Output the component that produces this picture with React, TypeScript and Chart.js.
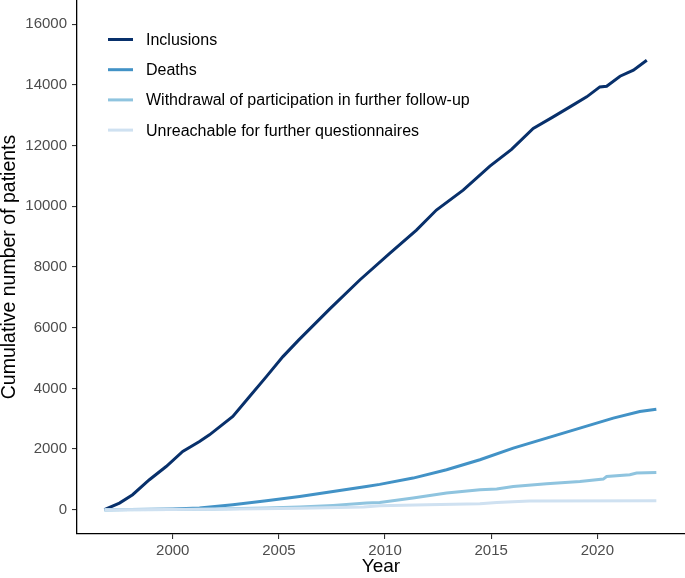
import React, { useEffect, useRef } from "react";
import { Chart, registerables } from "chart.js";

Chart.register(...registerables);

// ---- Data ----
const seriesNames = [
  "Inclusions",
  "Deaths",
  "Withdrawal of participation in further follow-up",
  "Unreachable for further questionnaires",
];

const inclusionYears = [
  1996.78, 1997.49, 1998.11, 1998.9, 1999.69, 2000.47, 2001.26, 2001.73, 2002.83,
  2003.62, 2004.41, 2005.19, 2005.94, 2007.4, 2008.81, 2010.22, 2011.48, 2012.42,
  2013.68, 2014.94, 2015.96, 2016.98, 2017.92, 2018.71, 2019.5, 2020.12, 2020.44,
  2021.07, 2021.7, 2022.33,
];
const inclusionValues = [
  0, 220, 494, 988, 1425, 1919, 2249, 2469, 3072,
  3730, 4388, 5047, 5597, 6620, 7572, 8451, 9218, 9877,
  10535, 11325, 11875, 12566, 12948, 13277, 13607, 13936, 13959,
  14288, 14486, 14815,
];

const deathYears = [
  1996.78, 1998.0, 2000.0, 2001.26, 2002.83, 2004.41, 2005.98, 2007.55, 2009.12,
  2009.75, 2011.32, 2012.9, 2014.47, 2016.04, 2017.61, 2019.18, 2020.75, 2022.0, 2022.78,
];
const deathValues = [
  0, 5, 25, 56, 165, 296, 439, 604, 768,
  835, 1043, 1317, 1646, 2030, 2360, 2689, 3019, 3237, 3315,
];

const withdrawalYears = [
  1996.78, 2000.0, 2002.0, 2004.41, 2005.98, 2007.55, 2009.12, 2009.75, 2011.32,
  2012.9, 2014.47, 2015.26, 2016.04, 2017.61, 2019.18, 2020.28, 2020.44, 2021.53,
  2021.85, 2022.78,
];
const withdrawalValues = [
  0, 5, 20, 55, 88, 143, 220, 241, 384,
  549, 658, 680, 768, 856, 933, 1010, 1097, 1152,
  1207, 1229,
];

const unreachableYears = [
  1996.78, 2000.0, 2003.0, 2006.0, 2009.0, 2009.75, 2012.0, 2014.47, 2015.26,
  2016.8, 2022.78,
];
const unreachableValues = [0, 5, 20, 45, 90, 132, 165, 198, 241, 290, 296];

const xTicks = [2000, 2005, 2010, 2015, 2020];
const yTicks = [0, 2000, 4000, 6000, 8000, 10000, 12000, 14000, 16000];

const colors = ["#08306b", "#4292c6", "#8fc4df", "#cfe1f1"];
const FONT = "'Liberation Sans', Arial, Helvetica, sans-serif";

const toPoints = (xs: number[], ys: number[]) => xs.map((x, i) => ({ x, y: ys[i] }));

const insideLegend = {
  id: "insideLegend",
  afterDraw(chart: any) {
    const { ctx, chartArea } = chart;
    ctx.save();
    chart.data.datasets.forEach((ds: any, i: number) => {
      const y = chartArea.top + 39.5 + i * 30.2;
      ctx.strokeStyle = ds.borderColor;
      ctx.lineWidth = 3;
      ctx.beginPath();
      ctx.moveTo(chartArea.left + 31, y);
      ctx.lineTo(chartArea.left + 56, y);
      ctx.stroke();
      ctx.fillStyle = "#000000";
      ctx.font = `16px ${FONT}`;
      ctx.textBaseline = "middle";
      ctx.textAlign = "left";
      ctx.fillText(ds.label, chartArea.left + 69, y + 1);
    });
    ctx.restore();
  },
};

export default function App() {
  const canvasRef = useRef<HTMLCanvasElement | null>(null);

  useEffect(() => {
    const canvas = canvasRef.current;
    if (!canvas) return;
    const data = [
      toPoints(inclusionYears, inclusionValues),
      toPoints(deathYears, deathValues),
      toPoints(withdrawalYears, withdrawalValues),
      toPoints(unreachableYears, unreachableValues),
    ];
    const chart = new Chart(canvas, {
      type: "line",
      data: {
        datasets: data.map((d, i) => ({
          label: seriesNames[i],
          data: d,
          borderColor: colors[i],
          backgroundColor: colors[i],
          borderWidth: 3,
          pointRadius: 0,
          tension: 0,
          fill: false,
          order: 4 - i,
        })),
      },
      options: {
        animation: false,
        responsive: false,
        devicePixelRatio: 1,
        layout: { padding: 0 },
        plugins: {
          legend: { display: false },
          tooltip: { enabled: false },
        },
        scales: {
          x: {
            type: "linear",
            min: 1995.49,
            max: 2024.13,
            border: { display: true, color: "#000000", width: 1.3 },
            grid: {
              display: true,
              drawOnChartArea: false,
              drawTicks: true,
              tickLength: 5,
              color: "#333333",
              lineWidth: 1.1,
            },
            ticks: {
              color: "#4d4d4d",
              font: { size: 15, family: FONT },
              padding: 3,
              maxRotation: 0,
              autoSkip: false,
              callback: (v: any) => String(v),
            },
            title: {
              display: true,
              text: "Year",
              color: "#000000",
              font: { size: 19, family: FONT, lineHeight: 1.2 },
              padding: { top: 0, bottom: 0 },
            },
            afterBuildTicks: (scale: any) => {
              scale.ticks = xTicks.map((v) => ({ value: v }));
            },
            afterFit: (scale: any) => {
              scale.height = 44;
              scale.paddingLeft = 0;
              scale.paddingRight = 0;
            },
          },
          y: {
            type: "linear",
            min: -800,
            max: 16800,
            border: { display: true, color: "#000000", width: 1.3 },
            grid: {
              display: true,
              drawOnChartArea: false,
              drawTicks: true,
              tickLength: 5,
              color: "#333333",
              lineWidth: 1.1,
            },
            ticks: {
              color: "#4d4d4d",
              font: { size: 15, family: FONT },
              padding: 5,
              autoSkip: false,
              callback: (v: any) => String(v),
            },
            title: {
              display: true,
              text: "Cumulative number of patients",
              color: "#000000",
              font: { size: 19.5, family: FONT, lineHeight: 1.0 },
              padding: { top: 0, bottom: 0 },
            },
            afterBuildTicks: (scale: any) => {
              scale.ticks = yTicks.map((v) => ({ value: v }));
            },
            afterFit: (scale: any) => {
              scale.width = 77;
              scale.paddingTop = 0;
              scale.paddingBottom = 0;
            },
          },
        },
      },
      plugins: [insideLegend],
    } as any);
    return () => chart.destroy();
  }, []);

  return (
    <div style={{ position: "absolute", left: 0, top: 0, width: 685, height: 578, background: "#ffffff" }}>
      <canvas ref={canvasRef} width={685} height={578} style={{ width: 685, height: 578, display: "block" }} />
    </div>
  );
}
